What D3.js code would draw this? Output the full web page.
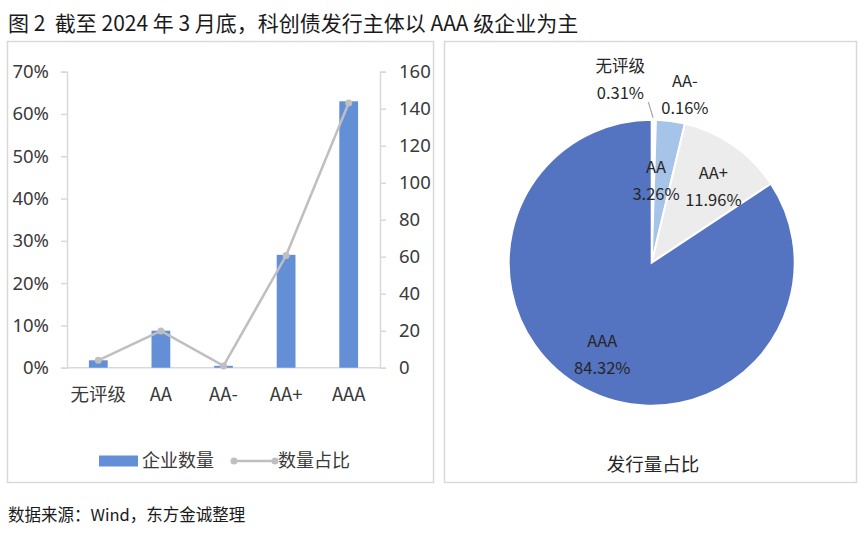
<!DOCTYPE html>
<html>
<head>
<meta charset="utf-8">
<script src="https://cdn.jsdelivr.net/npm/d3@7"></script>
<style>
  body { margin: 0; background: #fff; }
  svg text { font-family: "Noto Sans CJK SC", "Noto Sans", sans-serif; white-space: pre; }
</style>
</head>
<body>
<svg id="chart" width="865" height="533"></svg>
<script>
'use strict';

// left chart: counts (bars, right axis) and share (line, left axis)
var categories = ["无评级", "AA", "AA-", "AA+", "AAA"];
var companyCount = [4, 20, 1, 61, 144];
var countShare = [0.0174, 0.087, 0.0043, 0.2652, 0.6261];
var leftTicks = [0, 0.1, 0.2, 0.3, 0.4, 0.5, 0.6, 0.7];
var rightTicks = [0, 20, 40, 60, 80, 100, 120, 140, 160];

// right chart: issuance share, clockwise from 12 o'clock
var pieNames = ["无评级", "AA-", "AA", "AA+", "AAA"];
var pieShare = [0.31, 0.16, 3.26, 11.96, 84.32];

var svg = d3.select("#chart");

svg.append("text").attr("x", 8).attr("y", 30.5)
  .attr("font-size", 21).attr("fill", "#1a1a1a")
  .text("图 2  截至 2024 年 3 月底，科创债发行主体以 AAA 级企业为主");

svg.append("text").attr("x", 8).attr("y", 521)
  .attr("font-size", 16.5).attr("fill", "#1a1a1a")
  .text("数据来源：Wind，东方金诚整理");

// panel frames
svg.append("rect").attr("x", 7.5).attr("y", 41.5).attr("width", 426).attr("height", 441)
  .attr("fill", "#fff").attr("stroke", "#d9d9d9").attr("stroke-width", 1.5);
svg.append("rect").attr("x", 444.5).attr("y", 41.5).attr("width", 412).attr("height", 441)
  .attr("fill", "#fff").attr("stroke", "#d9d9d9").attr("stroke-width", 1.5);

// ---- left: bar + line ----
var labelColor = "#3a3a3a";
var x = d3.scaleBand().domain(categories).range([67, 380]);
var yL = d3.scaleLinear().domain([0, 0.7]).range([367.7, 71.7]);
var yR = d3.scaleLinear().domain([0, 160]).range([367.7, 71.7]);

var axisL = svg.append("g").attr("transform", "translate(67,0)")
  .call(d3.axisLeft(yL).tickValues(leftTicks).tickFormat(d3.format(".0%")).tickSize(6).tickPadding(12));
var axisR = svg.append("g").attr("transform", "translate(380,0)")
  .call(d3.axisRight(yR).tickValues(rightTicks).tickSize(6).tickPadding(13));
[axisL, axisR].forEach(function (a) {
  a.select(".domain").attr("stroke", "#d9d9d9").attr("stroke-width", 1.5);
  a.selectAll(".tick line").attr("stroke", "#d9d9d9").attr("stroke-width", 1.5);
  a.selectAll(".tick text").attr("font-size", 18.5).attr("fill", labelColor)
    .style("font-family", "'Noto Sans', sans-serif");
});

// baseline
svg.append("line").attr("x1", 67).attr("x2", 380)
  .attr("y1", yL(0)).attr("y2", yL(0))
  .attr("stroke", "#d9d9d9").attr("stroke-width", 1.5);

var barW = x.bandwidth() * 0.3;
svg.append("g").selectAll("rect").data(companyCount).join("rect")
  .attr("x", function (d, i) { return x(categories[i]) + (x.bandwidth() - barW) / 2; })
  .attr("y", function (d) { return yR(d); })
  .attr("width", barW)
  .attr("height", function (d) { return yR(0) - yR(d); })
  .attr("fill", "#628fd6");

var line = d3.line()
  .x(function (d, i) { return x(categories[i]) + x.bandwidth() / 2; })
  .y(function (d) { return yL(d); });
svg.append("path").datum(countShare).attr("d", line)
  .attr("fill", "none").attr("stroke", "#bfbfbf").attr("stroke-width", 2.5);
svg.append("g").selectAll("circle").data(countShare).join("circle")
  .attr("cx", function (d, i) { return x(categories[i]) + x.bandwidth() / 2; })
  .attr("cy", function (d) { return yL(d); })
  .attr("r", 3.5).attr("fill", "#bfbfbf");

svg.append("g").selectAll("text").data(categories).join("text")
  .attr("x", function (d) { return x(d) + x.bandwidth() / 2; })
  .attr("y", 395).attr("dy", "0.35em")
  .attr("text-anchor", "middle").attr("font-size", 18.5).attr("fill", labelColor)
  .text(function (d) { return d; });

// legend
var lg = svg.append("g").attr("transform", "translate(0,461)");
lg.append("rect").attr("x", 99).attr("y", -5.5).attr("width", 39).attr("height", 11).attr("fill", "#628fd6");
lg.append("text").attr("x", 142).attr("dy", "0.35em").attr("font-size", 18).attr("fill", labelColor).text("企业数量");
lg.append("line").attr("x1", 234).attr("x2", 275).attr("stroke", "#bfbfbf").attr("stroke-width", 2.5);
lg.selectAll("circle").data([234, 275]).join("circle")
  .attr("cx", function (d) { return d; }).attr("r", 3.5).attr("fill", "#bfbfbf");
lg.append("text").attr("x", 278).attr("dy", "0.35em").attr("font-size", 18).attr("fill", labelColor).text("数量占比");

// ---- right: pie ----
var cx = 651.7, cy = 262.7, R = 143;
var pieColors = ["#f4f4f4", "#ffffff", "#a6c3e8", "#ececec", "#5473c0"];
// label placement: radius factor and nudge per slice
var labelK = [1.2, 1.2, 0.58, 0.68, 0.73];
var labelNudge = [[-33, -11], [29, 3.5], [-6.6, 0], [6, 4], [0, 0]];

var pie = d3.pie().sort(null).value(function (d) { return d; });
var arcs = pie(pieShare);
var arc = d3.arc().innerRadius(0).outerRadius(R);
var pg = svg.append("g").attr("transform", "translate(" + cx + "," + cy + ")");
pg.selectAll("path").data(arcs).join("path")
  .attr("d", arc)
  .attr("fill", function (d, i) { return pieColors[i]; })
  .attr("stroke", "#fff").attr("stroke-width", 2);

function labelPos(d, i) {
  var a = (d.startAngle + d.endAngle) / 2, r = R * labelK[i];
  return [Math.sin(a) * r + labelNudge[i][0], -Math.cos(a) * r + labelNudge[i][1]];
}

// leader line for 无评级
var p0 = labelPos(arcs[0], 0);
var a0 = (arcs[0].startAngle + arcs[0].endAngle) / 2;
pg.append("line")
  .attr("x1", p0[0] + 28).attr("y1", p0[1] + 22)
  .attr("x2", Math.sin(a0) * (R + 2)).attr("y2", -Math.cos(a0) * (R + 2))
  .attr("stroke", "#a6a6a6").attr("stroke-width", 1.2);

var lab = pg.selectAll("g.lab").data(arcs).join("g").attr("class", "lab")
  .attr("transform", function (d, i) { return "translate(" + labelPos(d, i) + ")"; });
lab.append("text").attr("y", -13.5).attr("dy", "0.35em").attr("text-anchor", "middle")
  .attr("font-size", 16.5).attr("fill", "#262626")
  .text(function (d, i) { return pieNames[i]; });
lab.append("text").attr("y", 13.5).attr("dy", "0.35em").attr("text-anchor", "middle")
  .attr("font-size", 16.5).attr("fill", "#262626")
  .text(function (d) { return d.value.toFixed(2) + "%"; });

svg.append("text").attr("x", 653).attr("y", 465).attr("dy", "0.35em")
  .attr("text-anchor", "middle").attr("font-size", 18.5).attr("fill", "#262626")
  .text("发行量占比");
</script>
</body>
</html>
